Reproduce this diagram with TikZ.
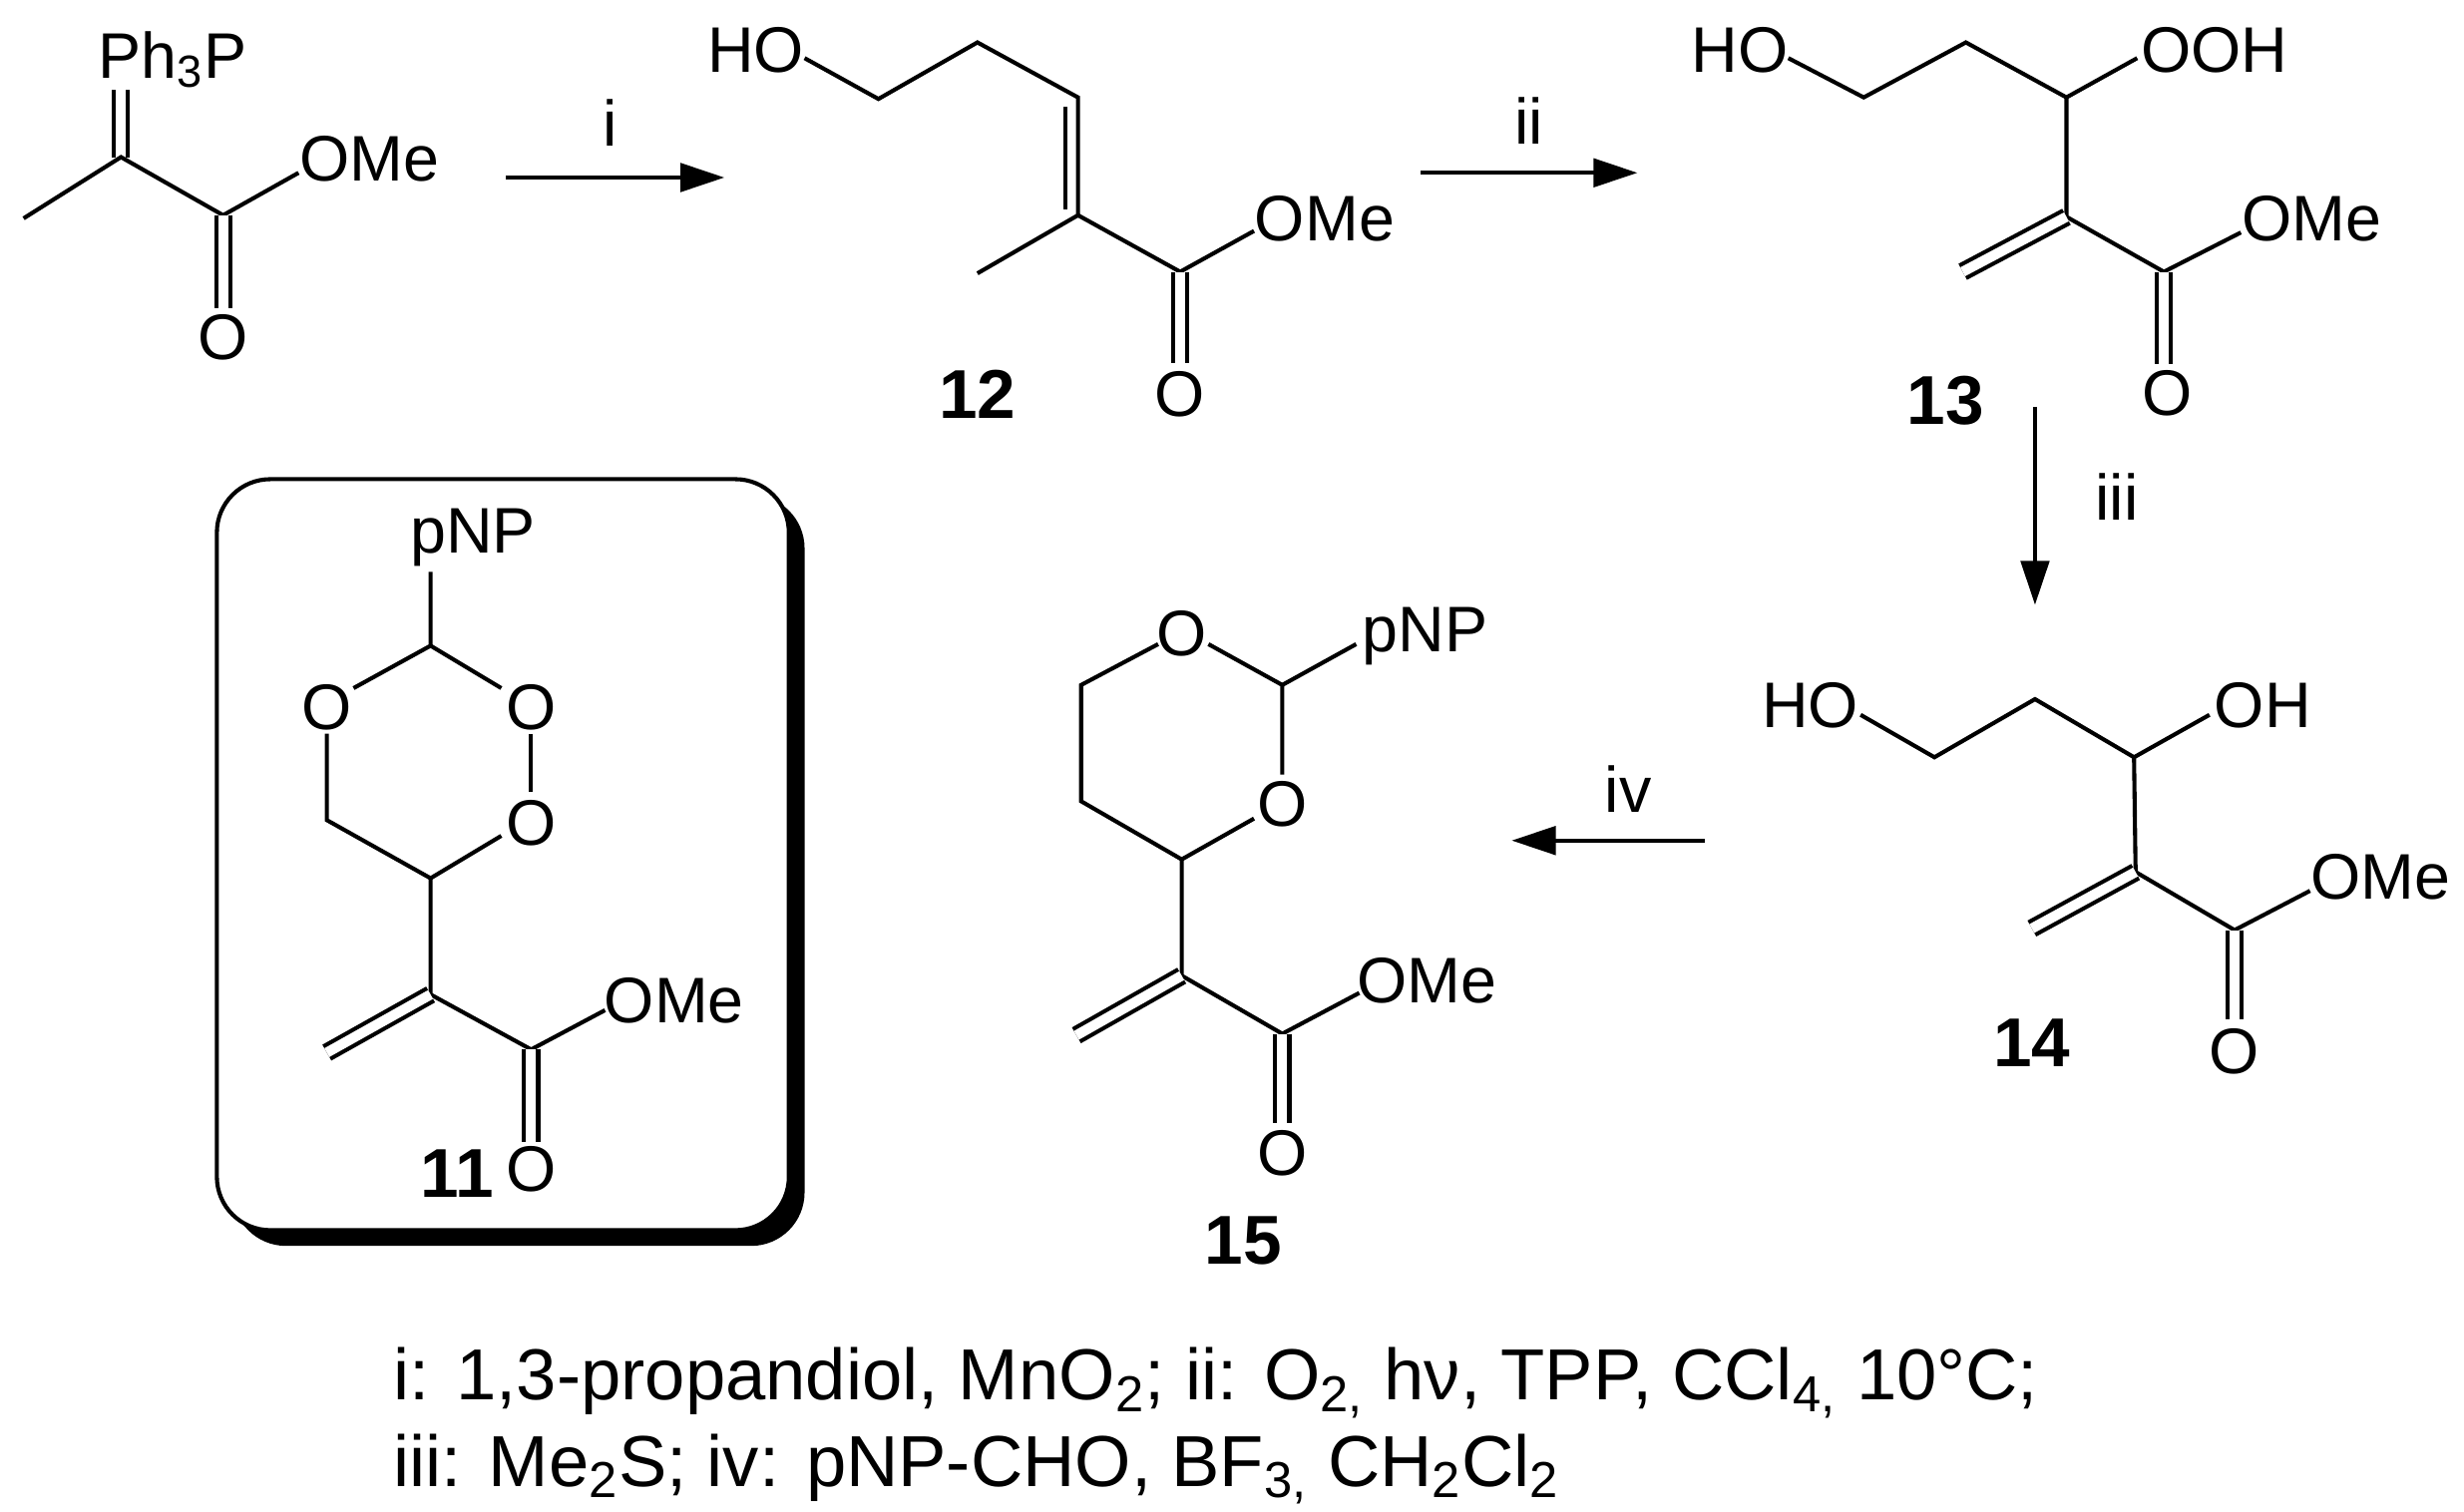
\documentclass[tikz,border=0pt]{standalone}
\usepackage{fontspec}
\setmainfont{Liberation Sans}
\usetikzlibrary{arrows.meta}
\tikzset{
  bond/.style={line width=1.3pt},
  dbond/.style={line width=1.3pt, double, double distance=3.2pt},
  atom/.style={inner sep=0pt, font=\fontsize{20.5}{24}\selectfont},
  cpd/.style={inner sep=0pt, font=\fontsize{22}{26}\selectfont\bfseries},
  cond/.style={inner sep=0pt, font=\fontsize{23}{27}\selectfont},
  rxn/.style={line width=1.3pt, -{Triangle[length=14pt,width=9pt]}},
}
\begin{document}
\begin{tikzpicture}[x=0.5pt,y=0.5pt,yscale=-1]
\useasboundingbox (0,0) rectangle (1568,962);

% reagent
\node[atom] (ph3p) at (110,38) {Ph\textsubscript{3}P};
\coordinate (r1) at (77,100);
\coordinate (r1t) at (77,57);
\coordinate (rme) at (15,139);
\coordinate (r2) at (142,137);
\coordinate (ro1) at (190,110);
\coordinate (ro2) at (142,196);
\node[atom] (rome) at (235,101) {OMe};
\node[atom] (ro) at (142,215) {O};
\draw[dbond] (r1t) -- (r1);
\draw[bond] (rme) -- (r1) -- (r2) -- (ro1);
\draw[dbond] (r2) -- (ro2);

% step i
\coordinate (ai) at (322,113);
\coordinate (bi) at (461,113);
\draw[rxn] (ai) -- (bi);
\node[atom] (li) at (388,78) {i};

% compound 12
\node[atom] (ho12) at (481,32) {HO};
\coordinate (a1) at (512,37);
\coordinate (a2) at (559,63);
\coordinate (a3) at (622,27);
\coordinate (a4) at (686,62);
\coordinate (a5) at (686,137);
\coordinate (a6) at (622,174);
\coordinate (a7) at (751,173);
\coordinate (a8) at (798,147);
\coordinate (a9) at (751,231);
\coordinate (a4i) at (678,68);
\coordinate (a5i) at (678,133);
\node[atom] (ome12) at (843,139) {OMe};
\node[atom] (o12) at (751,251) {O};
\node[cpd] (c12) at (622,251) {12};
\draw[bond] (a1) -- (a2) -- (a3) -- (a4) -- (a5) -- (a6);
\draw[bond] (a4i) -- (a5i);
\draw[bond] (a5) -- (a7) -- (a8);
\draw[dbond] (a7) -- (a9);

% step ii
\coordinate (aii) at (904,110);
\coordinate (bii) at (1042,110);
\draw[rxn] (aii) -- (bii);
\node[atom] (lii) at (973,77) {ii};

% compound 13
\node[atom] (ho13) at (1107,32) {HO};
\node[atom] (ooh13) at (1409,32) {OOH};
\coordinate (b1) at (1138,37);
\coordinate (b2) at (1186,62);
\coordinate (b3) at (1251,27);
\coordinate (b4) at (1315,62);
\coordinate (b5) at (1360,37);
\coordinate (b6) at (1315,138);
\coordinate (b7) at (1249,173);
\coordinate (b8) at (1377,173);
\coordinate (b9) at (1426,148);
\coordinate (b10) at (1377,232);
\node[atom] (ome13) at (1471,139) {OMe};
\node[atom] (o13) at (1379,250) {O};
\node[cpd] (c13) at (1238,255) {13};
\draw[bond] (b1) -- (b2) -- (b3) -- (b4) -- (b5);
\draw[bond] (b4) -- (b6) -- (b8) -- (b9);
\draw[dbond] (b6) -- (b7);
\draw[dbond] (b8) -- (b10);

% step iii
\coordinate (aiii) at (1295,259);
\coordinate (biii) at (1295,385);
\draw[rxn] (aiii) -- (biii);
\node[atom] (liii) at (1347,316) {iii};

% compound 14
\node[atom] (ho14) at (1152,449) {HO};
\node[atom] (oh14) at (1440,449) {OH};
\coordinate (d1) at (1184,455);
\coordinate (d2) at (1231,482);
\coordinate (d3) at (1295,445);
\coordinate (d4) at (1358,482);
\coordinate (d5) at (1406,455);
\coordinate (d6) at (1359,555);
\coordinate (d7) at (1293,591);
\coordinate (d8) at (1422,592);
\coordinate (d9) at (1470,567);
\coordinate (d10) at (1422,649);
\node[atom] (ome14) at (1515,558) {OMe};
\node[atom] (o14) at (1422,669) {O};
\node[cpd] (c14) at (1293,664) {14};
\draw[bond] (d1) -- (d2) -- (d3) -- (d4) -- (d5);
\draw[bond] (d4) -- (d6) -- (d8) -- (d9);
\draw[dbond] (d6) -- (d7);
\draw[dbond] (d8) -- (d10);

% step iv
\coordinate (aiv) at (1085,535);
\coordinate (biv) at (962,535);
\draw[rxn] (aiv) -- (biv);
\node[atom] (liv) at (1036,502) {iv};

% compound 15
\node[atom] (o15a) at (752,403) {O};
\node[atom] (o15b) at (816,512) {O};
\node[atom] (pnp15) at (907,405) {pNP};
\coordinate (e1) at (737,410);
\coordinate (e2) at (688,436);
\coordinate (e3) at (688,510);
\coordinate (e4) at (752,547);
\coordinate (e5) at (798,521);
\coordinate (e6) at (816,493);
\coordinate (e7) at (816,436);
\coordinate (e8) at (769,410);
\coordinate (e9) at (863,410);
\coordinate (e10) at (752,621);
\coordinate (e11) at (685,659);
\coordinate (e12) at (816,658);
\coordinate (e13) at (865,632);
\coordinate (e14) at (816,715);
\node[atom] (ome15) at (908,624) {OMe};
\node[atom] (o15) at (816,734) {O};
\node[cpd] (c15) at (791,790) {15};
\draw[bond] (e1) -- (e2) -- (e3) -- (e4) -- (e5);
\draw[bond] (e6) -- (e7) -- (e8);
\draw[bond] (e7) -- (e9);
\draw[bond] (e4) -- (e10) -- (e12) -- (e13);
\draw[dbond] (e10) -- (e11);
\draw[dbond] (e12) -- (e14);

% box with compound 11
\fill[black, rounded corners=17] (148,315) rectangle (512,793);
\draw[line width=1.3pt, fill=white, rounded corners=17] (138,305) rectangle (502,783);
\node[atom] (pnp11) at (301,342) {pNP};
\node[atom] (o11a) at (208,450) {O};
\node[atom] (o11b) at (338,450) {O};
\node[atom] (o11c) at (338,524) {O};
\coordinate (f1) at (274,364);
\coordinate (f2) at (274,411);
\coordinate (f3) at (225,438);
\coordinate (f4) at (319,438);
\coordinate (f5) at (338,467);
\coordinate (f6) at (338,504);
\coordinate (f7) at (319,532);
\coordinate (f8) at (274,559);
\coordinate (f9) at (208,522);
\coordinate (f10) at (208,467);
\coordinate (f11) at (274,633);
\coordinate (f12) at (208,670);
\coordinate (f13) at (338,668);
\coordinate (f14) at (385,643);
\coordinate (f15) at (338,727);
\node[atom] (ome11) at (429,637) {OMe};
\node[atom] (o11) at (338,744) {O};
\node[cpd] (c11) at (291,747) {11};
\draw[bond] (f1) -- (f2) -- (f3);
\draw[bond] (f2) -- (f4);
\draw[bond] (f5) -- (f6);
\draw[bond] (f7) -- (f8) -- (f9) -- (f10);
\draw[bond] (f8) -- (f11) -- (f13) -- (f14);
\draw[dbond] (f11) -- (f12);
\draw[dbond] (f13) -- (f15);

% conditions
\node[cond, anchor=west] (cond1) at (250,880) {i: 1,3-propandiol, MnO\textsubscript{2}; ii: O\textsubscript{2,} hν, TPP, CCl\textsubscript{4,} 10°C;};
\node[cond, anchor=west] (cond2) at (250,935) {iii: Me\textsubscript{2}S; iv: pNP-CHO, BF\textsubscript{3,} CH\textsubscript{2}Cl\textsubscript{2}};
\end{tikzpicture}
\end{document}
